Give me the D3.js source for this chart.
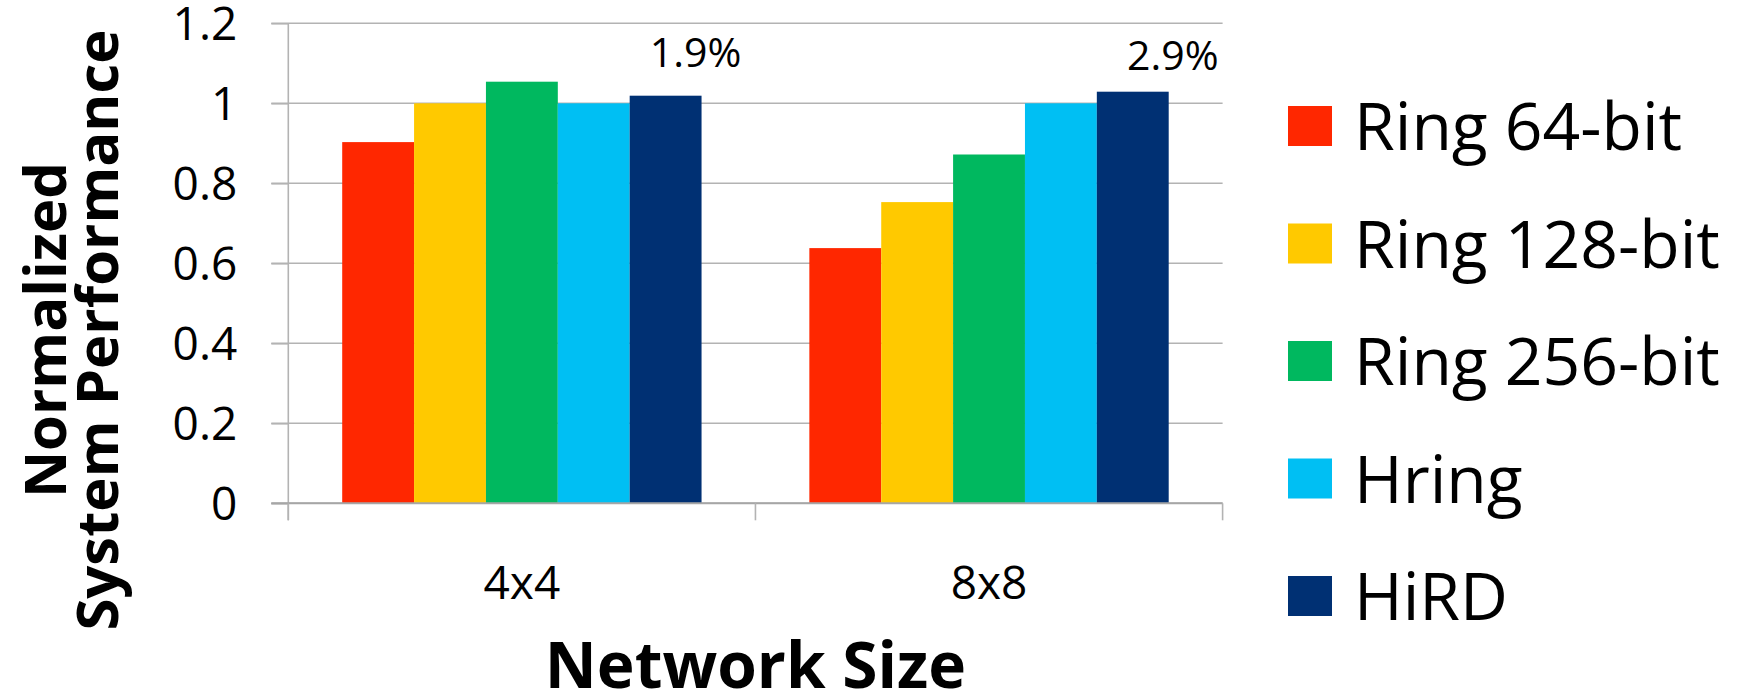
<!DOCTYPE html>
<html>
<head>
<meta charset="utf-8">
<script src="https://cdn.jsdelivr.net/npm/d3@7"></script>
<style>
  html, body { margin: 0; padding: 0; background: #fff; }
  svg { display: block; font-family: "Open Sans", "Noto Sans", sans-serif; }
</style>
</head>
<body>
<svg id="chart" width="1752" height="695"></svg>
<script>
// Network sizes on the x axis
const categories = ["4x4", "8x8"];
// Ring / Hring / HiRD variants, drawn left to right in each group
const seriesNames = ["Ring 64-bit", "Ring 128-bit", "Ring 256-bit", "Hring", "HiRD"];
const seriesColors = ["#FF2700", "#FFC900", "#00B85F", "#00BFF3", "#003073"];
// Normalized system performance, one array per series (4x4, 8x8)
const ring64 = [0.903, 0.638];
const ring128 = [1.0, 0.753];
const ring256 = [1.054, 0.872];
const hring = [1.0, 1.0];
const hird = [1.019, 1.029];
// HiRD improvement over Hring, written above the HiRD bars
const hirdGainLabels = ["1.9%", "2.9%"];
// Y axis ticks
const yTickValues = [0, 0.2, 0.4, 0.6, 0.8, 1.0, 1.2];
const yTickLabels = ["0", "0.2", "0.4", "0.6", "0.8", "1", "1.2"];

const seriesValues = [ring64, ring128, ring256, hring, hird];

const svg = d3.select("#chart");
const plot = { left: 288.3, right: 1222.6, top: 23.3, bottom: 503.3 };
const gridColor = "#B3B3B3";

const y = d3.scaleLinear().domain([0, 1.2]).range([plot.bottom, plot.top]);
const x0 = d3.scaleBand().domain(categories).range([plot.left, plot.right])
  .paddingInner(0).paddingOuter(0);
// gap between groups is 150% of a bar's width
const x1 = d3.scaleBand().domain(seriesNames).range([0, x0.bandwidth()])
  .paddingInner(0).paddingOuter(0.75);
const color = d3.scaleOrdinal().domain(seriesNames).range(seriesColors);

// horizontal gridlines, starting at the outer tick marks
svg.append("g").selectAll("line")
  .data(yTickValues)
  .join("line")
  .attr("x1", plot.left - 17)
  .attr("x2", plot.right)
  .attr("y1", d => y(d))
  .attr("y2", d => y(d))
  .attr("stroke", gridColor)
  .attr("stroke-width", 1.6);

// y axis: line and labels
const yAxis = svg.append("g")
  .attr("transform", `translate(${plot.left},0)`)
  .call(d3.axisLeft(y).tickValues(yTickValues).tickSize(17).tickPadding(34)
    .tickFormat((d, i) => yTickLabels[i]));
yAxis.select(".domain").attr("stroke", gridColor).attr("stroke-width", 1.6)
  .attr("d", `M0,${plot.top}V${plot.bottom + 17}`);
yAxis.selectAll(".tick line").attr("stroke", gridColor).attr("stroke-width", 1.6);
yAxis.selectAll(".tick text")
  .attr("font-size", 46)
  .attr("font-family", "'Open Sans', sans-serif")
  .attr("fill", "#000")
  .attr("dy", "0.36em");

// bars
const groups = svg.append("g").selectAll("g")
  .data(categories)
  .join("g")
  .attr("transform", d => `translate(${x0(d)},0)`);

groups.selectAll("rect")
  .data((c, ci) => seriesNames.map((s, si) => ({ s, v: seriesValues[si][ci] })))
  .join("rect")
  .attr("x", d => x1(d.s))
  .attr("width", x1.bandwidth())
  .attr("y", d => y(d.v))
  .attr("height", d => y(0) - y(d.v))
  .attr("fill", d => color(d.s));

// x axis: baseline with tick marks at the category boundaries
const xEdges = [plot.left].concat(categories.map(c => x0(c) + x0.bandwidth()));
const xAxisG = svg.append("g");
xAxisG.append("line")
  .attr("x1", plot.left - 17).attr("x2", plot.right)
  .attr("y1", y(0)).attr("y2", y(0))
  .attr("stroke", "#A6A6A6").attr("stroke-width", 2);
xAxisG.selectAll("line.tk")
  .data(xEdges)
  .join("line")
  .attr("class", "tk")
  .attr("x1", d => d).attr("x2", d => d)
  .attr("y1", y(0)).attr("y2", y(0) + 17)
  .attr("stroke", gridColor).attr("stroke-width", 1.6);
xAxisG.selectAll("text")
  .data(categories)
  .join("text")
  .attr("x", d => x0(d) + x0.bandwidth() / 2)
  .attr("y", y(0) + 96)
  .attr("text-anchor", "middle")
  .attr("font-size", 46)
  .attr("fill", "#000")
  .text(d => d);

// HiRD gain labels above the HiRD bars
const labelShift = [{ dx: 30, dy: -29 }, { dx: 40, dy: -22 }];
svg.append("g").selectAll("text")
  .data(categories)
  .join("text")
  .attr("x", (c, i) => x0(c) + x1("HiRD") + x1.bandwidth() / 2 + labelShift[i].dx)
  .attr("y", (c, i) => y(hird[i]) + labelShift[i].dy)
  .attr("text-anchor", "middle")
  .attr("font-size", 41)
  .attr("fill", "#000")
  .text((c, i) => hirdGainLabels[i]);

// axis titles
svg.append("text")
  .attr("x", (plot.left + plot.right) / 2)
  .attr("y", 688)
  .attr("text-anchor", "middle")
  .attr("font-size", 64)
  .attr("font-weight", 700)
  .attr("fill", "#000")
  .text("Network Size");

const yTitle = svg.append("text")
  .attr("transform", "translate(0,330) rotate(-90)")
  .attr("text-anchor", "middle")
  .attr("font-size", 58)
  .attr("font-weight", 700)
  .attr("fill", "#000");
yTitle.append("tspan").attr("x", 0).attr("y", 66).text("Normalized");
yTitle.append("tspan").attr("x", 0).attr("y", 118).text("System Performance");

// legend
const legend = svg.append("g").selectAll("g")
  .data(seriesNames)
  .join("g")
  .attr("transform", (d, i) => `translate(1288,${126 + i * 117.5})`);
legend.append("rect")
  .attr("x", 0).attr("y", -20)
  .attr("width", 44).attr("height", 40)
  .attr("fill", d => color(d));
legend.append("text")
  .attr("x", 66).attr("y", 24)
  .attr("font-size", 66)
  .attr("fill", "#000")
  .text(d => d);
</script>
</body>
</html>
